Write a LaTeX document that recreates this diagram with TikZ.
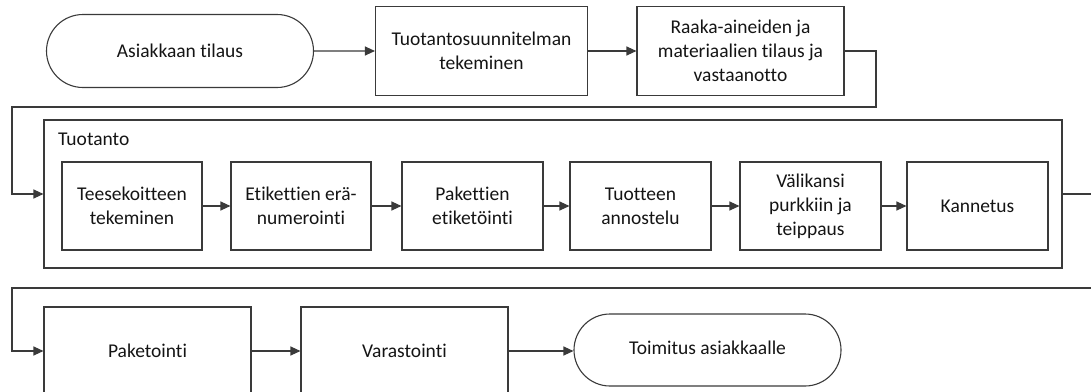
\documentclass[tikz,border=0pt]{standalone}
\usepackage{fontspec}
\setmainfont{Carlito}[Ligatures={NoCommon}]
\usetikzlibrary{arrows.meta,shapes.misc}
\definecolor{ln}{HTML}{3A3A3A}
\definecolor{tx}{HTML}{141414}
\tikzset{
  box/.style={draw=ln,line width=1.1pt,rectangle,align=center,text=tx,inner sep=2pt,
    font=\fontsize{19.5}{24}\selectfont},
  term/.style={box,rounded rectangle},
  arr/.style={draw=ln,line width=1.1pt,-{Triangle[length=10pt,width=9pt]}},
  ln/.style={draw=ln,line width=1.1pt},
}
\begin{document}
\begin{tikzpicture}[x=1pt,y=-1pt]
\useasboundingbox (0,0) rectangle (1091,391);
\clip (0,0) rectangle (1091,391);
% top row
\node[term,minimum width=271pt,minimum height=73pt] (a) at (180,51) {Asiakkaan tilaus};
\node[box,minimum width=212pt,minimum height=89pt] (t) at (481.5,51) {Tuotantosuunnitelman\\tekeminen};
\node[box,minimum width=207pt,minimum height=89pt] (r) at (740.5,51) {Raaka-aineiden ja\\materiaalien tilaus ja\\vastaanotto};
% production container
\node[box,minimum width=1018pt,minimum height=148pt] (p) at (553,194) {};
\node[anchor=base west,text=tx,font=\fontsize{19.5}{24}\selectfont,inner sep=0pt] (pl) at (58,145) {Tuotanto};
\node[box,minimum width=140pt,minimum height=88pt] (b1) at (132,206) {Teesekoitteen\\tekeminen};
\node[box,minimum width=140pt,minimum height=88pt] (b2) at (301,206) {Etikettien erä-\\numerointi};
\node[box,minimum width=141pt,minimum height=88pt] (b3) at (472.5,206) {Pakettien\\etiketöinti};
\node[box,minimum width=141pt,minimum height=88pt] (b4) at (640.5,206) {Tuotteen\\annostelu};
\node[box,minimum width=141pt,minimum height=88pt] (b5) at (810.5,206) {Välikansi\\purkkiin ja\\teippaus};
\node[box,minimum width=141pt,minimum height=88pt] (b6) at (977.5,206) {Kannetus};
% bottom row
\node[box,minimum width=207pt,minimum height=88pt] (k) at (147.5,351) {Paketointi};
\node[box,minimum width=207pt,minimum height=88pt] (v) at (404.5,351) {Varastointi};
\node[term,minimum width=271pt,minimum height=72pt] (d) at (707.5,350) {\raisebox{5pt}{Toimitus asiakkaalle}};
% connectors
\coordinate (c1) at (876,107);
\coordinate (c2) at (12,107);
\coordinate (e1) at (1095,194);
\coordinate (e2) at (1095,288);
\coordinate (c3) at (12,288);
\draw[arr] (a) -- (t);
\draw[arr] (t) -- (r);
\draw[arr] (r.east) -| (c1) -- (c2) |- (p.west);
\draw[arr] (b1) -- (b2);
\draw[arr] (b2) -- (b3);
\draw[arr] (b3) -- (b4);
\draw[arr] (b4) -- (b5);
\draw[arr] (b5) -- (b6);
\draw[ln] (p.east) -- (e1);
\draw[arr] (e2) -- (c3) |- (k.west);
\draw[arr] (k) -- (v);
\draw[arr] (v.east) -- (d.west |- v.east);
\end{tikzpicture}
\end{document}
